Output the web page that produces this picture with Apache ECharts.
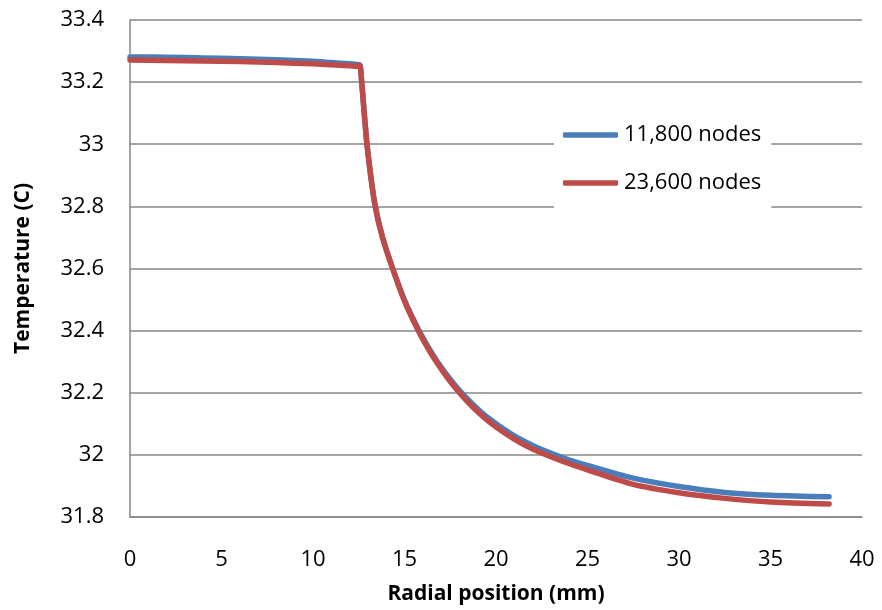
<!DOCTYPE html>
<html>
<head>
<meta charset="utf-8">
<script src="https://cdn.jsdelivr.net/npm/echarts@6/dist/echarts.min.js"></script>
<style>
  html, body { margin: 0; padding: 0; background: #fff; }
  #chart { width: 882px; height: 610px; }
</style>
</head>
<body>
<div id="chart"></div>
<script>
// Radial positions (mm) at which both meshes are sampled
const radialMm = [0, 2, 4, 6, 8, 10, 11, 12, 12.4, 12.55, 12.66, 12.8, 12.95, 13.15, 13.4, 13.8, 14.35, 15, 15.75, 16.3, 16.8, 17.4, 18, 18.7, 19.5, 20.2, 21, 21.7, 22.5, 23.7, 25, 27.5, 30, 32.5, 35, 38.2];

// Temperature (C) for each mesh
const temp11800 = [33.281, 33.280, 33.278, 33.275, 33.272, 33.267, 33.263, 33.259, 33.257, 33.256, 33.2, 33.1, 33.0, 32.9, 32.8, 32.7, 32.601, 32.498, 32.405, 32.347, 32.3, 32.251, 32.208, 32.165, 32.122, 32.092, 32.061, 32.039, 32.017, 31.99, 31.966, 31.925, 31.898, 31.879, 31.87, 31.865];
const temp23600 = [33.271, 33.270, 33.268, 33.266, 33.263, 33.259, 33.256, 33.253, 33.251, 33.254, 33.2, 33.1, 33.0, 32.9, 32.8, 32.7, 32.6, 32.495, 32.4, 32.341, 32.294, 32.244, 32.2, 32.156, 32.113, 32.082, 32.051, 32.028, 32.006, 31.978, 31.952, 31.905, 31.878, 31.86, 31.848, 31.842];

const seriesNames = ['11,800 nodes', '23,600 nodes'];
const xTitle = 'Radial position (mm)';
const yTitle = 'Temperature (C)';

const FONT = '"Open Sans"';
const GRID_GRAY = '#868686';

const pair = (xs, ys) => xs.map((x, i) => [x, ys[i]]);

const chart = echarts.init(document.getElementById('chart'), null, { renderer: 'canvas' });

chart.setOption({
  animation: false,
  backgroundColor: '#fff',
  textStyle: { fontFamily: FONT },
  grid: { left: 130, right: 20, top: 20, bottom: 93, containLabel: false, outerBoundsMode: 'none' },
  legend: {
    orient: 'vertical',
    left: 554,
    top: 111,
    padding: [12, 10, 16, 9],
    backgroundColor: '#fff',
    icon: 'roundRect',
    itemWidth: 55,
    itemHeight: 5.5,
    itemGap: 24,
    data: seriesNames,
    textStyle: { fontFamily: FONT, fontSize: 22, color: '#000', lineHeight: 24, padding: [0, 0, 0, 1] }
  },
  xAxis: {
    type: 'value',
    min: 0,
    max: 40,
    interval: 5,
    name: xTitle,
    nameLocation: 'middle',
    nameGap: 67,
    nameTextStyle: { fontFamily: FONT, fontSize: 21, fontWeight: 'bold', color: '#000' },
    axisLine: { show: true, lineStyle: { color: GRID_GRAY, width: 1.5 } },
    axisTick: { show: false },
    splitLine: { show: false },
    axisLabel: { fontFamily: FONT, fontSize: 22, color: '#000', margin: 32 }
  },
  yAxis: {
    type: 'value',
    min: 31.8,
    max: 33.4,
    interval: 0.2,
    name: yTitle,
    nameLocation: 'middle',
    nameGap: 96,
    nameRotate: 90,
    nameTextStyle: { fontFamily: FONT, fontSize: 21, fontWeight: 'bold', color: '#000' },
    axisLine: { show: true, lineStyle: { color: GRID_GRAY, width: 1.5 } },
    axisTick: { show: false },
    splitLine: { show: true, lineStyle: { color: GRID_GRAY, width: 1.5 } },
    axisLabel: {
      fontFamily: FONT, fontSize: 22, color: '#000', margin: 26,
      formatter: v => String(+v.toFixed(1))
    }
  },
  series: [
    {
      name: seriesNames[0],
      type: 'line',
      data: pair(radialMm, temp11800),
      showSymbol: false,
      symbol: 'none',
      smooth: 0.3,
      color: '#4A7EBB',
      lineStyle: { width: 5.5, color: '#4A7EBB', cap: 'round', join: 'round' }
    },
    {
      name: seriesNames[1],
      type: 'line',
      data: pair(radialMm, temp23600),
      showSymbol: false,
      symbol: 'none',
      smooth: 0.3,
      color: '#BE4B48',
      lineStyle: { width: 5.5, color: '#BE4B48', cap: 'round', join: 'round' }
    }
  ]
});
</script>
</body>
</html>
